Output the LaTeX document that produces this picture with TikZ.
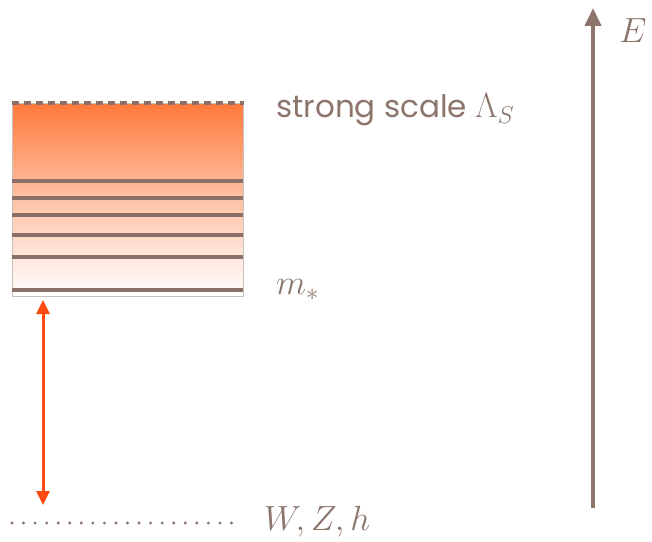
\RequirePackage{fix-cm}
\documentclass[tikz,border=0pt]{standalone}
\usepackage{fontspec}
\setsansfont{Poppins}
\usetikzlibrary{arrows.meta}
\definecolor{txt}{HTML}{8C766C}
\definecolor{lvl}{HTML}{8A7068}
\definecolor{orng}{HTML}{FF7A3A}
\definecolor{redarr}{HTML}{FF4A12}
\definecolor{boxedge}{HTML}{C8C0BC}
\tikzset{
  lbl/.style={text=txt, inner sep=0pt},
  level/.style={draw=lvl, line width=3.5pt},
  bigtext/.style={font=\fontsize{35}{40}\selectfont},
}
\begin{document}
\begin{tikzpicture}[x=1pt,y=1pt]
\useasboundingbox (0,0) rectangle (652,541);
% box
\node[draw=boxedge, line width=1pt, top color=orng, bottom color=white, middle color=orng!45,
      minimum width=231pt, minimum height=193pt, inner sep=0pt, anchor=north west] (box) at (12,438) {};
% dashed top
\draw[draw=lvl, line width=3.5pt, dash pattern=on 7pt off 5pt] (box.north west) -- (box.north east);
% levels
\foreach \y/\n in {360/a,343/b,326/c,306/d,284/e,251/f}{
  \coordinate (l\n w) at (12,\y);
  \coordinate (l\n e) at (243,\y);
  \draw[level] (l\n w) -- (l\n e);
}
% red arrow
\coordinate (ra) at (43,241);
\coordinate (rb) at (43,36);
\draw[draw=redarr, line width=3pt, {Triangle[length=14pt,width=13pt]}-{Triangle[length=14pt,width=13pt]}] (ra) -- (rb);
% dotted line
\coordinate (da) at (12,18);
\coordinate (db) at (232,18);
\draw[draw=lvl, line width=3.2pt, line cap=round, dash pattern=on 0pt off 11.55pt] (da) -- (db);
% labels
\node[lbl, bigtext, anchor=base west] (wzh) at (264,11) {$W,Z,h$};
\node[lbl, bigtext, anchor=base west] (mstar) at (276,246) {$m_*$};
\node[lbl, anchor=base west] (ss) at (276,423) {\sffamily\fontsize{31}{36}\selectfont strong scale \fontsize{35}{40}\selectfont$\Lambda_S$};
% E axis
\coordinate (ea) at (593,33);
\coordinate (eb) at (593,533);
\draw[draw=txt, line width=4pt, -{Triangle[length=18pt,width=16pt]}] (ea) -- (eb);
\node[lbl, bigtext, anchor=base west] (E) at (619,498) {$E$};
\end{tikzpicture}
\end{document}
